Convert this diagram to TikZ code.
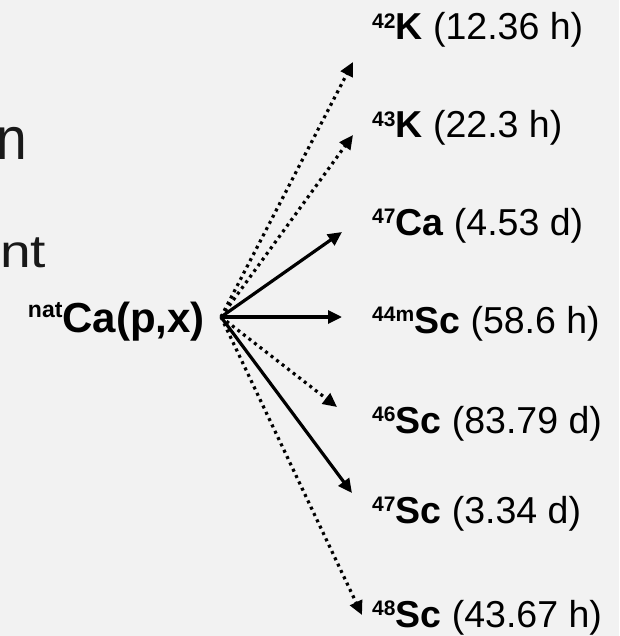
\documentclass[tikz,border=0pt]{standalone}
\usepackage{fontspec}
\setmainfont{Liberation Sans}
\usetikzlibrary{arrows.meta}

\definecolor{paper}{HTML}{F2F2F2}

% isotope label: small bold mass number, bold symbol, half-life
\newcommand{\isolabel}[3]{{\fontsize{21}{21}\selectfont\bfseries\raisebox{11.9pt}{#1}}{\bfseries #2} (#3)}

\begin{document}
\begin{tikzpicture}[x=1pt,y=-1pt,
  lbl/.style={anchor=base west, inner sep=0pt, font=\fontsize{37.5}{40}\selectfont},
  frag/.style={anchor=base east, inner sep=0pt, font=\fontsize{46}{50}\selectfont, text=black!90},
  solidarr/.style={line width=3.2pt, -{Triangle[length=14pt,width=13pt]}},
  dotarr/.style={line width=3.2pt, dash pattern=on 3pt off 4pt, -{Triangle[length=14pt,width=13pt]}},
]
\fill[paper] (0,0) rectangle (619,636);
\useasboundingbox (0,0) rectangle (619,636);

% text running in from the left
\node[frag] (fragA) at (27,160) {\scalebox{1.2}[1.3]{n}};
\node[frag] (fragB) at (46.5,267) {\scalebox{1.2}[1]{nt}};

% reaction
\node[anchor=base east, inner sep=0pt, font=\fontsize{42}{46}\selectfont\bfseries] (src) at (205,332)
  {{\fontsize{23}{23}\selectfont\raisebox{15pt}{nat}}Ca(p,x)};
\coordinate (hub) at (221,317);

% products
\node[lbl] (k42)  at (372,40)  {\isolabel{42}{K}{12.36 h}};
\node[lbl] (k43)  at (372,138) {\isolabel{43}{K}{22.3 h}};
\node[lbl] (ca47) at (372,235) {\isolabel{47}{Ca}{4.53 d}};
\node[lbl] (sc44) at (372,333) {\isolabel{44m}{Sc}{58.6 h}};
\node[lbl] (sc46) at (372,433) {\isolabel{46}{Sc}{83.79 d}};
\node[lbl] (sc47) at (372,523) {\isolabel{47}{Sc}{3.34 d}};
\node[lbl] (sc48) at (372,627) {\isolabel{48}{Sc}{43.67 h}};

% arrow ends
\coordinate (e42) at (353,62);
\coordinate (e43) at (353,135);
\coordinate (e47a) at (342,232);
\coordinate (e44) at (342,317);
\coordinate (e46) at (337,407);
\coordinate (e47s) at (352,493);
\coordinate (e48) at (362,615);

\draw[dotarr]   (hub) -- (e42);
\draw[dotarr]   (hub) -- (e43);
\draw[solidarr] (hub) -- (e47a);
\draw[solidarr] (hub) -- (e44);
\draw[dotarr]   (hub) -- (e46);
\draw[solidarr] (hub) -- (e47s);
\draw[dotarr]   (hub) -- (e48);
\end{tikzpicture}
\end{document}
